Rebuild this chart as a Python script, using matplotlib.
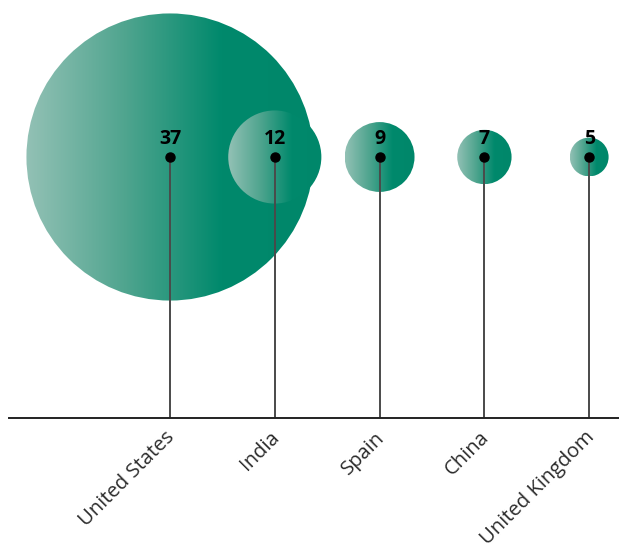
import numpy as np
import matplotlib
matplotlib.use('Agg')
import matplotlib.pyplot as plt
from matplotlib.colors import LinearSegmentedColormap
from matplotlib.patches import Circle

plt.rcParams['font.family'] = ['Open Sans', 'DejaVu Sans']

# datos
countries = ['United States', 'India', 'Spain', 'China', 'United Kingdom']
values = [37, 12, 9, 7, 5]

px = 1 / 104.8          # un pixel en unidades de datos (1 categoria = 104.8 px)
rad_per_unit = 3.88 * px
level = 261.3 * px      # altura de los circulos sobre el eje

cmap = LinearSegmentedColormap.from_list(
    'verde', [(0.0, '#93c1b5'), (0.35, '#4ea48e'), (0.68, '#00896c'), (1.0, '#00876a')])
grad = np.linspace(0, 1, 256).reshape(1, -1)

fig = plt.figure(figsize=(6.19, 5.46), dpi=100)
ax = fig.add_axes([0, 0, 1, 1])
ax.set_axis_off()

xs = np.arange(len(countries))

# burbujas con degradado
for i, (x, v) in enumerate(zip(xs, values)):
    r = v * rad_per_unit
    circ = Circle((x, level), r, facecolor='none', edgecolor='none')
    ax.add_patch(circ)
    im = ax.imshow(grad, extent=[x - r, x + r, level - r, level + r], cmap=cmap,
                   aspect='auto', interpolation='bilinear', zorder=1 + i * 0.01)
    im.set_clip_path(circ)

# eje
ax.axhline(0, xmin=9 / 619, xmax=1, color='#222222', lw=1.4, zorder=3)

# palitos, puntos y valores
ax.vlines(xs, 0, level, color='#4a4a4a', lw=1.4, zorder=2)
ax.plot(xs, [level] * len(xs), 'o', color='black', ms=6.5, zorder=4)
for x, v in zip(xs, values):
    ax.annotate(str(v), (x, level), xytext=(0, 13), textcoords='offset pixels',
                ha='center', va='baseline', fontsize=14, fontweight='bold',
                color='black', zorder=5)

# etiquetas giradas
for x, name in zip(xs, countries):
    ax.annotate(name, (x, 0), xytext=(5.5, -20), textcoords='offset pixels',
                ha='right', va='baseline', rotation=45, rotation_mode='anchor',
                fontsize=14.5, color='#2b2b2b', annotation_clip=False)

ax.set_xlim(-170 * px, 449 * px)
ax.set_ylim(-127.7 * px, 418.3 * px)

fig.savefig('out.png', dpi=100)
